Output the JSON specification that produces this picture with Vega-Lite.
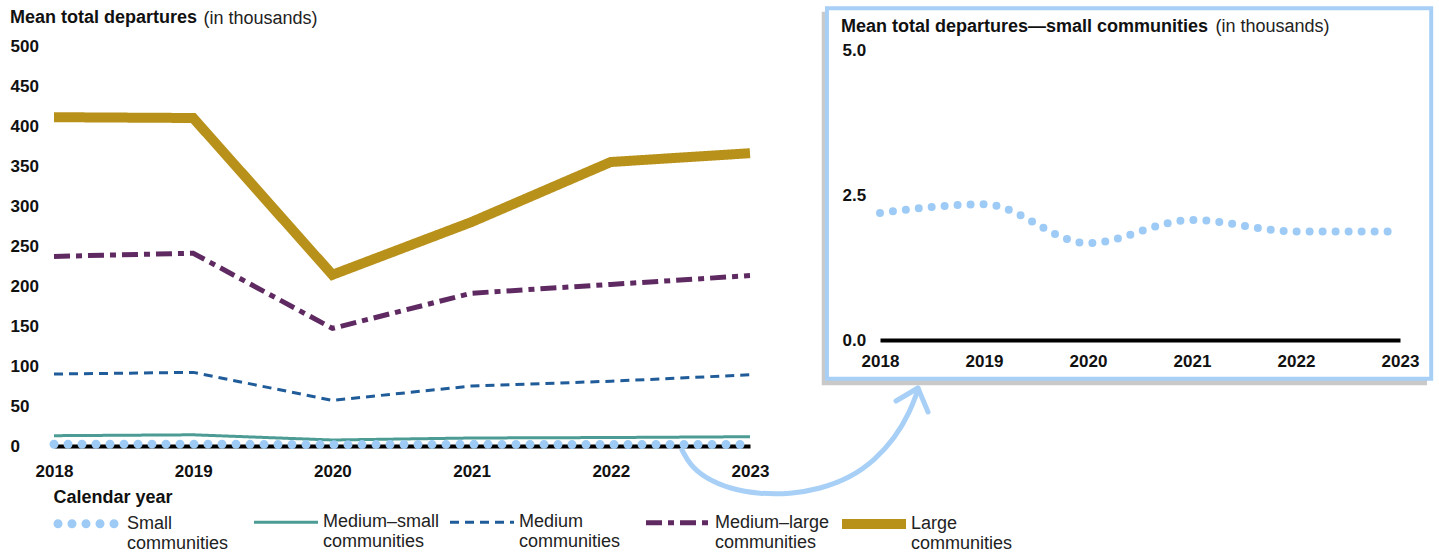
{
  "$schema": "https://vega.github.io/schema/vega-lite/v6.json",
  "padding": {"left": 10, "top": 6, "right": 4, "bottom": 4},
  "bounds": "flush",
  "spacing": 130,
  "config": {
    "font": "Liberation Sans",
    "view": {"stroke": null},
    "axis": {"grid": false, "ticks": false, "domain": false, "labelFlush": false, "labelFont": "Liberation Sans", "labelFontSize": 17, "labelFontWeight": "bold", "labelColor": "#111"}
  },
  "datasets": {
    "main": [
      {"series": "Small communities", "year": 2018, "value": 2.19},
      {"series": "Small communities", "year": 2019, "value": 2.34},
      {"series": "Small communities", "year": 2020, "value": 1.67},
      {"series": "Small communities", "year": 2021, "value": 2.07},
      {"series": "Small communities", "year": 2022, "value": 1.87},
      {"series": "Small communities", "year": 2023, "value": 1.87},
      {"series": "Medium–small communities", "year": 2018, "value": 12.9},
      {"series": "Medium–small communities", "year": 2019, "value": 14},
      {"series": "Medium–small communities", "year": 2020, "value": 7.5},
      {"series": "Medium–small communities", "year": 2021, "value": 10},
      {"series": "Medium–small communities", "year": 2022, "value": 10.6},
      {"series": "Medium–small communities", "year": 2023, "value": 11.6},
      {"series": "Medium communities", "year": 2018, "value": 90},
      {"series": "Medium communities", "year": 2019, "value": 92},
      {"series": "Medium communities", "year": 2020, "value": 57},
      {"series": "Medium communities", "year": 2021, "value": 75},
      {"series": "Medium communities", "year": 2022, "value": 81},
      {"series": "Medium communities", "year": 2023, "value": 89},
      {"series": "Medium–large communities", "year": 2018, "value": 237},
      {"series": "Medium–large communities", "year": 2019, "value": 241},
      {"series": "Medium–large communities", "year": 2020, "value": 147},
      {"series": "Medium–large communities", "year": 2021, "value": 191},
      {"series": "Medium–large communities", "year": 2022, "value": 202},
      {"series": "Medium–large communities", "year": 2023, "value": 213},
      {"series": "Large communities", "year": 2018, "value": 411},
      {"series": "Large communities", "year": 2019, "value": 410},
      {"series": "Large communities", "year": 2020, "value": 214},
      {"series": "Large communities", "year": 2021, "value": 280},
      {"series": "Large communities", "year": 2022, "value": 355},
      {"series": "Large communities", "year": 2023, "value": 366}
    ],
    "shadow": [{"x": 2017.44, "x2": 2023.26, "y": -0.78, "y2": 5.66}],
    "frame": [{"x": 2017.49, "x2": 2023.30, "y": -0.67, "y2": 5.72}],
    "arrow": [
      {"x": 2016.096, "y": -1.897},
      {"x": 2016.173, "y": -2.155},
      {"x": 2016.317, "y": -2.379},
      {"x": 2016.558, "y": -2.569},
      {"x": 2016.846, "y": -2.655},
      {"x": 2017.135, "y": -2.655},
      {"x": 2017.423, "y": -2.569},
      {"x": 2017.712, "y": -2.379},
      {"x": 2017.952, "y": -2.069},
      {"x": 2018.144, "y": -1.690},
      {"x": 2018.288, "y": -1.241},
      {"x": 2018.365, "y": -0.862}
    ],
    "barbs": [
      {"seg": "a", "x": 2018.154, "y": -1.052},
      {"seg": "a", "x": 2018.365, "y": -0.828},
      {"seg": "b", "x": 2018.365, "y": -0.828},
      {"seg": "b", "x": 2018.462, "y": -1.241}
    ]
  },
  "hconcat": [
    {
      "width": 696,
      "height": 400,
      "title": {"text": "Mean total departures", "anchor": "start", "frame": "group", "dx": -44, "offset": -18, "fontSize": 18, "fontWeight": "bold", "color": "#111", "font": "Liberation Sans"},
      "data": {"name": "main"},
      "encoding": {
        "x": {
          "field": "year", "type": "quantitative",
          "scale": {"domain": [2018, 2023], "nice": false, "zero": false},
          "axis": {
            "values": [2018, 2019, 2020, 2021, 2022, 2023], "format": "d",
            "domain": true, "domainColor": "#000", "domainWidth": 4, "labelPadding": 17,
            "title": "Calendar year", "titleFontSize": 18, "titleFontWeight": "bold", "titleColor": "#111",
            "titleAnchor": "start", "titleAlign": "left", "titleX": -1, "titleY": 51, "titleBaseline": "middle"
          }
        },
        "y": {
          "field": "value", "type": "quantitative",
          "scale": {"domain": [0, 500], "nice": false},
          "axis": {
            "values": [0, 50, 100, 150, 200, 250, 300, 350, 400, 450, 500],
            "labelAlign": "left", "labelPadding": 44, "labelBaseline": "middle",
            "title": "(in thousands)", "titleAngle": 0, "titleAlign": "left", "titleBaseline": "alphabetic",
            "titleX": 149, "titleY": -23, "titleFontWeight": "normal", "titleFontSize": 18, "titleColor": "#222"
          }
        },
        "color": {
          "field": "series", "type": "nominal",
          "scale": {
            "domain": ["Small communities", "Medium–small communities", "Medium communities", "Medium–large communities", "Large communities"],
            "range": ["#9DCBF6", "#4C9C95", "#1F5C99", "#5F2A62", "#B8911A"]
          },
          "legend": {
            "orient": "none", "legendX": -1, "legendY": 441, "direction": "horizontal", "columns": 5, "gridAlign": "all",
            "title": null, "symbolType": "stroke", "symbolSize": 4096, "labelFontSize": 18, "labelColor": "#222",
            "labelLimit": 0, "labelOffset": 0, "columnPadding": -10, "labelExpr": "split(datum.label, ' ')",
            "encode": {"symbols": {"update": {"strokeCap": [{"test": "datum.value === 'Small communities'", "value": "round"}, {"value": "butt"}]}}}
          }
        },
        "strokeDash": {
          "field": "series", "type": "nominal",
          "scale": {
            "domain": ["Small communities", "Medium–small communities", "Medium communities", "Medium–large communities", "Large communities"],
            "range": [[0, 14], [1, 0], [9, 6], [16, 6, 6, 6], [1, 0]]
          },
          "legend": null
        },
        "strokeWidth": {
          "field": "series", "type": "nominal",
          "scale": {
            "type": "ordinal",
            "domain": ["Small communities", "Medium–small communities", "Medium communities", "Medium–large communities", "Large communities"],
            "range": [9, 3, 3, 5, 10]
          },
          "legend": null
        }
      },
      "layer": [
        {
          "transform": [{"filter": "datum.series !== 'Small communities'"}],
          "mark": {"type": "line", "clip": false, "strokeCap": "butt"}
        },
        {
          "transform": [{"filter": "datum.series === 'Small communities'"}],
          "mark": {"type": "line", "clip": false, "strokeCap": "round"}
        }
      ]
    },
    {
      "width": 520,
      "height": 294,
      "title": {"text": "Mean total departures—small communities", "anchor": "start", "frame": "group", "dx": -39, "offset": -30, "fontSize": 18, "fontWeight": "bold", "color": "#111", "font": "Liberation Sans", "zindex": 1},
      "layer": [
        {
          "data": {"name": "shadow"},
          "mark": {"type": "rect", "clip": false, "fill": "#777", "opacity": 0.4},
          "encoding": {
            "x": {"field": "x", "type": "quantitative", "scale": {"domain": [2018, 2023], "nice": false, "zero": false}},
            "x2": {"field": "x2"},
            "y": {"field": "y", "type": "quantitative", "scale": {"domain": [0, 5.069], "nice": false}},
            "y2": {"field": "y2"}
          }
        },
        {
          "data": {"name": "frame"},
          "mark": {"type": "rect", "clip": false, "fill": "#fff", "stroke": "#A8D0F7", "strokeWidth": 4},
          "encoding": {
            "x": {"field": "x", "type": "quantitative", "scale": {"domain": [2018, 2023], "nice": false, "zero": false}},
            "x2": {"field": "x2"},
            "y": {"field": "y", "type": "quantitative", "scale": {"domain": [0, 5.069], "nice": false}},
            "y2": {"field": "y2"}
          }
        },
        {
          "data": {"name": "arrow"},
          "mark": {"type": "line", "clip": false, "interpolate": "basis", "color": "#A8D0F7", "strokeWidth": 5, "strokeCap": "round"},
          "encoding": {
            "x": {"field": "x", "type": "quantitative", "scale": {"domain": [2018, 2023], "nice": false, "zero": false}},
            "y": {"field": "y", "type": "quantitative", "scale": {"domain": [0, 5.069], "nice": false}}
          }
        },
        {
          "data": {"name": "barbs"},
          "mark": {"type": "line", "clip": false, "color": "#A8D0F7", "strokeWidth": 5, "strokeCap": "round"},
          "encoding": {
            "x": {"field": "x", "type": "quantitative", "scale": {"domain": [2018, 2023], "nice": false, "zero": false}},
            "y": {"field": "y", "type": "quantitative", "scale": {"domain": [0, 5.069], "nice": false}},
            "detail": {"field": "seg"}
          }
        },
        {
          "data": {"name": "main"},
          "transform": [{"filter": "datum.series === 'Small communities'"}],
          "mark": {"type": "line", "clip": false, "interpolate": "monotone", "color": "#9DCBF6", "strokeWidth": 8, "strokeCap": "round", "strokeDash": [0, 13]},
          "encoding": {
            "x": {
              "field": "year", "type": "quantitative",
              "scale": {"domain": [2018, 2023], "nice": false, "zero": false},
              "axis": {
                "values": [2018, 2019, 2020, 2021, 2022, 2023], "format": "d", "zindex": 1,
                "domain": true, "domainColor": "#000", "domainWidth": 4, "labelPadding": 13, "title": null
              }
            },
            "y": {
              "field": "value", "type": "quantitative",
              "scale": {"domain": [0, 5.069], "nice": false},
              "axis": {
                "values": [0, 2.5, 5], "format": ".1f", "zindex": 1,
                "labelAlign": "left", "labelPadding": 38, "labelBaseline": "middle",
                "title": "(in thousands)", "titleAngle": 0, "titleAlign": "left", "titleBaseline": "alphabetic",
                "titleX": 335, "titleY": -15, "titleFontWeight": "normal", "titleFontSize": 18, "titleColor": "#222"
              }
            }
          }
        }
      ]
    }
  ]
}
